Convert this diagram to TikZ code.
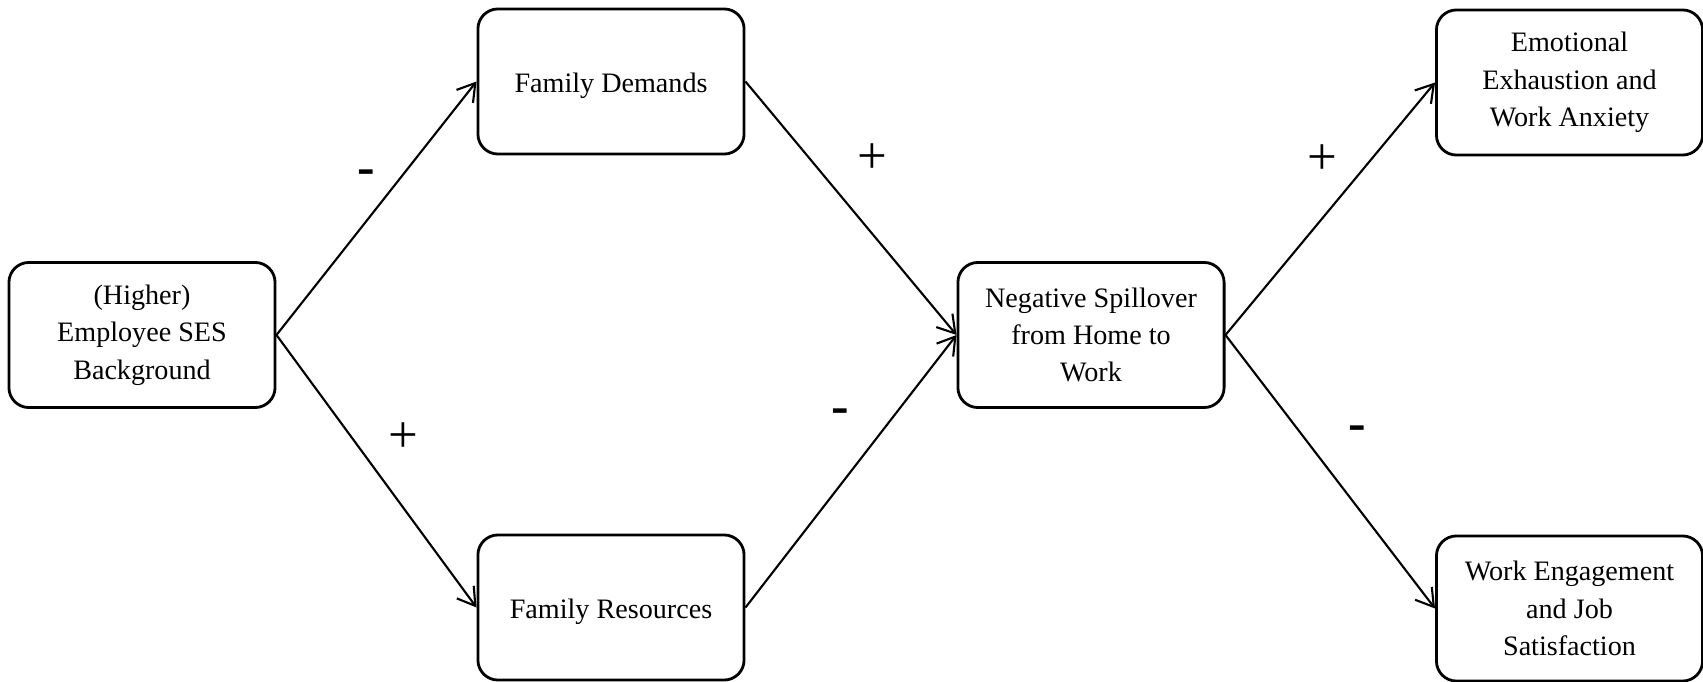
\documentclass[tikz,border=0pt]{standalone}
\usepackage{fontspec}
\setmainfont{Liberation Serif}
\usepackage{tikz}
\usetikzlibrary{arrows.meta}

\tikzset{
  varbox/.style={draw, rectangle, rounded corners=0.2cm, line width=0.8pt, minimum width=2.66cm, minimum height=1.45cm, align=center, font=\fontsize{8pt}{10.6pt}\selectfont},
  path/.style={line width=0.6pt, -{Straight Barb[length=1.7mm, width=2.1mm]}},
  sign/.style={font=\fontsize{15pt}{18pt}\selectfont}
}
\newcommand{\lowtext}[1]{\raisebox{-1.2pt}[\height][\depth]{#1}}

\begin{document}
\begin{tikzpicture}[x=0.01cm, y=-0.01cm]%
\useasboundingbox (0, 0) rectangle (1703, 682);%
\node[varbox] (ses) at (142, 335) {(Higher)\\Employee SES\\Background};%
\node[varbox] (demands) at (611, 81.5) {\lowtext{Family Demands}};%
\node[varbox] (resources) at (611, 607.5) {\lowtext{Family Resources}};%
\node[varbox] (spill) at (1091, 335) {Negative Spillover\\from Home to\\Work};%
\node[varbox] (exhaust) at (1569.5, 82.5) {Emotional\\Exhaustion and\\Work Anxiety};%
\node[varbox] (engage) at (1569.5, 608.5) {Work Engagement\\and Job\\Satisfaction};%
\draw[path] (ses.east) -- (demands.west);%
\draw[path] (ses.east) -- (resources.west);%
\draw[path] (demands.east) -- (spill.west);%
\draw[path] (resources.east) -- (spill.west);%
\draw[path] (spill.east) -- (exhaust.west);%
\draw[path] (spill.east) -- (engage.west);%
\node[sign] (s1) at (366, 177) {\textbf{-}};%
\node[sign] (s2) at (403, 438) {+};%
\node[sign] (s3) at (872, 159) {+};%
\node[sign] (s4) at (840, 416) {\textbf{-}};%
\node[sign] (s5) at (1322, 160) {+};%
\node[sign] (s6) at (1357, 433) {\textbf{-}};%
\end{tikzpicture}
\end{document}
